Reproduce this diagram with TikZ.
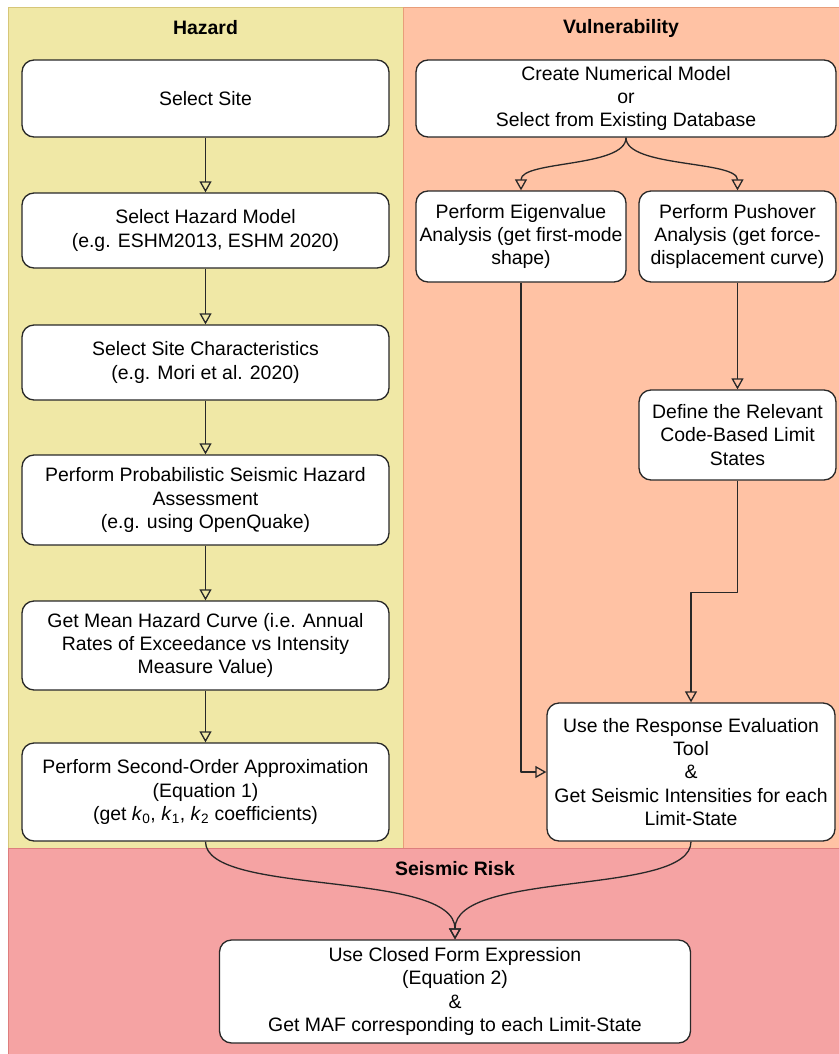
\documentclass[tikz,border=0pt]{standalone}
\usepackage{fontspec}
\setmainfont{Liberation Sans}
\usetikzlibrary{arrows.meta,calc}

\definecolor{hazardfill}{RGB}{240,232,166}
\definecolor{hazardline}{RGB}{214,198,120}
\definecolor{vulnfill}{RGB}{255,194,164}
\definecolor{vulnline}{RGB}{232,158,122}
\definecolor{riskfill}{RGB}{245,163,163}
\definecolor{riskline}{RGB}{222,126,126}
\definecolor{strokecol}{RGB}{40,40,40}

\newcommand{\boxfont}{\fontsize{19.5}{23.5}\selectfont}

\tikzset{
  stepbox/.style={draw=strokecol, fill=white, rounded corners=12bp,
    line width=1.3bp, align=center, inner sep=0pt, font=\boxfont},
  hazbox/.style={stepbox, minimum width=367bp},
  paneltitle/.style={font=\boxfont\bfseries},
  flow/.style={draw=strokecol, line width=1.3bp,
    -{Triangle[open,length=11bp,width=12bp]}},
}

\begin{document}
\begin{tikzpicture}[x=1bp, y=-1bp, line join=bevel]
  \useasboundingbox (0,0) rectangle (839,1054);
  %% panels
  \filldraw[fill=hazardfill, draw=hazardline, line width=1bp] (8,7) rectangle (403,848);
  \filldraw[fill=vulnfill, draw=vulnline, line width=1bp] (403,7) rectangle (839,848);
  \filldraw[fill=riskfill, draw=riskline, line width=1bp] (8,848) rectangle (839,1054);
  \node[paneltitle] (hazardtitle) at (205.5,28) {Hazard};
  \node[paneltitle] (vulntitle) at (621,28) {Vulnerability};
  \node[paneltitle] (risktitle) at (455,869) {Seismic Risk};
  %%
  % Node: site
  \node[hazbox, minimum height=77bp] (site) at (205.5,98.5) {Select Site};
  % Node: hazmodel
  \node[hazbox, minimum height=75bp] (hazmodel) at (205.5,230.5)
    {Select Hazard Model\\(e.g. ESHM2013, ESHM 2020)};
  % Node: sitechar
  \node[hazbox, minimum height=75bp] (sitechar) at (205.5,362.5)
    {Select Site Characteristics\\(e.g. Mori et al. 2020)};
  % Node: psha
  \node[hazbox, minimum height=90bp] (psha) at (205.5,500)
    {Perform Probabilistic Seismic Hazard\\Assessment\\(e.g. using OpenQuake)};
  % Node: meancurve
  \node[hazbox, minimum height=89bp] (meancurve) at (205.5,645.5)
    {Get Mean Hazard Curve (i.e. Annual\\Rates of Exceedance vs Intensity\\Measure Value)};
  % Node: secorder
  \node[hazbox, minimum height=98bp] (secorder) at (205.5,792)
    {Perform Second-Order Approximation\\(Equation 1)\\(get \textit{k}\textsubscript{0}, \textit{k}\textsubscript{1}, \textit{k}\textsubscript{2} coefficients)};
  %%
  % Node: create
  \node[stepbox, minimum width=420bp, minimum height=77bp] (create) at (626,98.5)
    {Create Numerical Model\\or\\Select from Existing Database};
  % Node: eigen
  \node[stepbox, minimum width=210bp, minimum height=91bp] (eigen) at (521,236.5)
    {Perform Eigenvalue\\Analysis (get first-mode\\shape)};
  % Node: pushover
  \node[stepbox, minimum width=197bp, minimum height=91bp] (pushover) at (737.5,236.5)
    {Perform Pushover\\Analysis (get force-\\displacement curve)};
  % Node: limitstates
  \node[stepbox, minimum width=197bp, minimum height=90bp] (limitstates) at (737.5,435)
    {Define the Relevant\\Code-Based Limit\\States};
  % Node: response
  \node[stepbox, minimum width=288bp, minimum height=138bp] (response) at (691,772)
    {Use the Response Evaluation\\Tool\\\&\\Get Seismic Intensities for each\\Limit-State};
  %%
  % Node: closedform
  \node[stepbox, minimum width=471bp, minimum height=103bp] (closedform) at (455,991.5)
    {Use Closed Form Expression\\(Equation 2)\\\&\\Get MAF corresponding to each Limit-State};
  %%
  % Edges: hazard chain
  \draw[flow] (site) -- (hazmodel);
  \draw[flow] (hazmodel) -- (sitechar);
  \draw[flow] (sitechar) -- (psha);
  \draw[flow] (psha) -- (meancurve);
  \draw[flow] (meancurve) -- (secorder);
  % Edges: vulnerability
  \draw[flow] (create.south) .. controls +(0,30) and +(0,-30) .. (eigen.north);
  \draw[flow] (create.south) .. controls +(0,30) and +(0,-30) .. (pushover.north);
  \draw[flow] (pushover) -- (limitstates);
  \draw[flow] (limitstates.south) -- ++(0,112) -| (response.north);
  \draw[flow] (eigen.south) |- (response.west);
  % Edges: seismic risk
  \draw[flow] (secorder.south) .. controls +(0,55) and +(0,-70) .. (closedform.north);
  \draw[flow] (response.south) .. controls +(0,55) and +(0,-70) .. (closedform.north);
\end{tikzpicture}
\end{document}
